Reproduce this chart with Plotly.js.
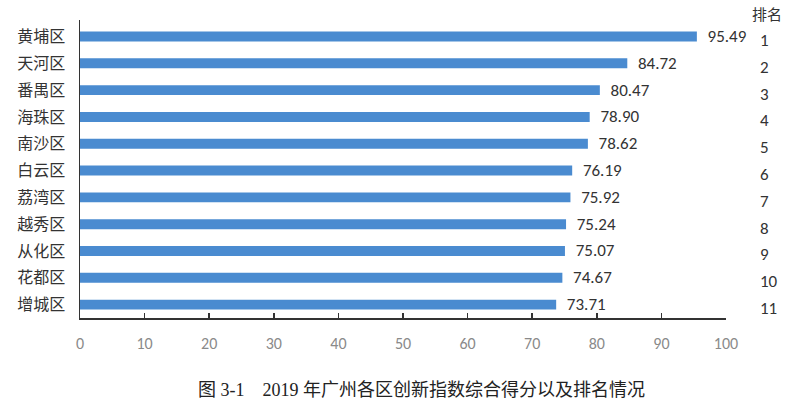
<!DOCTYPE html>
<html>
<head>
<meta charset="utf-8">
<script src="https://cdn.plot.ly/plotly-3.0.1.min.js"></script>
<style>
  html, body { margin: 0; padding: 0; background: #fff; }
  #chart { width: 800px; height: 412px; }
</style>
</head>
<body>
<div id="chart"></div>
<script>
const districts = ["黄埔区", "天河区", "番禺区", "海珠区", "南沙区", "白云区", "荔湾区", "越秀区", "从化区", "花都区", "增城区"];
const scores = [95.49, 84.72, 80.47, 78.90, 78.62, 76.19, 75.92, 75.24, 75.07, 74.67, 73.71];
const ranks = [1, 2, 3, 4, 5, 6, 7, 8, 9, 10, 11];
const xTicks = [0, 10, 20, 30, 40, 50, 60, 70, 80, 90, 100];

const cjk = "'Microsoft YaHei', 'Noto Sans CJK SC', sans-serif";
const num = "Carlito, Lato, 'Liberation Sans', sans-serif";

const trace = {
  type: "bar",
  orientation: "h",
  y: districts,
  x: scores,
  width: 0.37,
  marker: { color: "#4a8bd0" },
  // nbsp padding gives the gap between bar end and label
  text: scores.map(v => "\u00a0\u00a0" + v.toFixed(2)),
  textposition: "outside",
  constraintext: "none",
  cliponaxis: false,
  textfont: { family: num, size: 17, color: "#333" },
  hoverinfo: "none"
};

// rank column on the right
const annotations = districts.map((d, i) => ({
  x: 1, xref: "paper", xanchor: "left",
  y: d, yref: "y", yshift: -4,
  text: String(ranks[i]),
  showarrow: false,
  xshift: 32,
  font: { family: num, size: 17, color: "#333" }
}));
annotations.push({
  x: 1, xref: "paper", xanchor: "left", xshift: 24,
  y: 1, yref: "paper", yanchor: "bottom", yshift: -6,
  text: "排名", showarrow: false,
  font: { family: cjk, size: 15, color: "#333" }
});
annotations.push({
  x: 0.5, xref: "paper", xanchor: "center", xshift: 18,
  y: 0, yref: "paper", yanchor: "top", yshift: -60,
  text: "图 3-1　2019 年广州各区创新指数综合得分以及排名情况",
  showarrow: false,
  font: { family: "'Times New Roman', 'Liberation Serif', 'Noto Sans CJK SC', serif", size: 18, color: "#222" }
});

const layout = {
  width: 800, height: 412,
  margin: { l: 80, r: 74, t: 20, b: 94 },
  paper_bgcolor: "#fff",
  plot_bgcolor: "#fff",
  showlegend: false,
  xaxis: {
    range: [0, 100],
    tickvals: xTicks,
    ticks: "inside", ticklen: 5, tickcolor: "#333", tickwidth: 1.5,
    showline: true, linecolor: "#333", linewidth: 1.5,
    showgrid: false, zeroline: false,
    ticklabelstandoff: 10,
    tickfont: { family: num, size: 16, color: "#8a8a8a" },
    fixedrange: true
  },
  yaxis: {
    autorange: "reversed",
    showline: true, linecolor: "#333", linewidth: 1.5,
    showgrid: false, zeroline: false,
    ticks: "", ticklabelstandoff: 10,
    tickfont: { family: cjk, size: 16, color: "#333" },
    fixedrange: true
  },
  annotations: annotations
};

Plotly.newPlot("chart", [trace], layout, { displayModeBar: false, staticPlot: true });
</script>
</body>
</html>
